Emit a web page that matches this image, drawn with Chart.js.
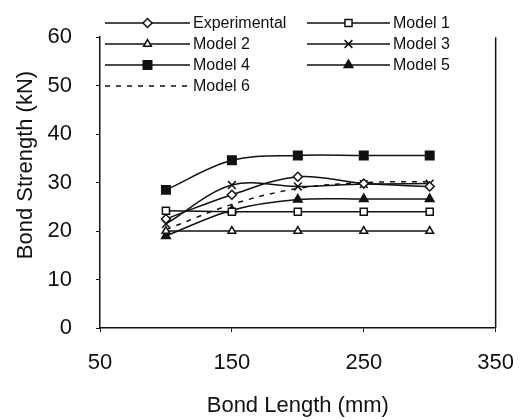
<!DOCTYPE html>
<html>
<head>
<meta charset="utf-8">
<script src="https://cdn.jsdelivr.net/npm/chart.js@4.4.1/dist/chart.umd.min.js"></script>
<style>
  html, body { margin: 0; padding: 0; background: #fff; }
  #wrap { width: 532px; height: 420px; }
</style>
</head>
<body>
<div id="wrap"><canvas id="chart" width="532" height="420"></canvas></div>
<script>
// values
const bondLength = [100, 150, 200, 250, 300];
const experimental = [22.5, 27.5, 31.2, 29.8, 29.2];
const model1 = [24.2, 24, 24, 24, 24];
const model2 = [20, 20, 20, 20, 20];
const model3 = [21.5, 29.5, 29.2, 29.7, 29.8];
const model4 = [28.5, 34.6, 35.6, 35.6, 35.6];
const model5 = [19, 24.3, 26.5, 26.6, 26.6];
const model6 = [20.3, 25.5, 28.8, 30, 30.2];

const xTicks = [50, 150, 250, 350];
const yTicks = [0, 10, 20, 30, 40, 50, 60];

const FONT = "'Liberation Sans', Arial, sans-serif";
const INK = '#111';

const toPoints = (values) => values.map((v, i) => ({ x: bondLength[i], y: v }));

const series = [
    { label: 'Experimental', data: experimental, pointStyle: 'rectRot', radius: 4.5, fill: '#fff' },
    { label: 'Model 1', data: model1, pointStyle: 'rect', radius: 5, fill: '#fff' },
    { label: 'Model 2', data: model2, pointStyle: 'triangle', radius: 4.5, fill: '#fff' },
    { label: 'Model 3', data: model3, pointStyle: 'crossRot', radius: 5.5, fill: INK },
    { label: 'Model 4', data: model4, pointStyle: 'rect', radius: 6, fill: INK },
    { label: 'Model 5', data: model5, pointStyle: 'triangle', radius: 5, fill: INK },
    { label: 'Model 6', data: model6, pointStyle: false, radius: 0, fill: INK, dash: [5, 6] },
];

const datasets = series.map((s) => ({
    label: s.label,
    data: toPoints(s.data),
    showLine: true,
    tension: 0.35,
    borderColor: INK,
    borderWidth: 1.5,
    borderDash: s.dash || [],
    pointStyle: s.pointStyle,
    pointRadius: s.radius,
    pointBackgroundColor: s.fill,
    pointBorderColor: INK,
    pointBorderWidth: 1.5,
}));

// legend inside the plot (two columns), right border and y title
const overlayPlugin = {
    id: 'overlay',
    afterDraw(chart) {
        const { ctx, chartArea } = chart;
        const rows = [23, 44, 65, 86];
        const cols = [{ x0: 105, x1: 190 }, { x0: 307, x1: 390 }];
        ctx.save();

        ctx.strokeStyle = INK;
        ctx.lineWidth = 1.5;
        ctx.beginPath();
        ctx.moveTo(chartArea.right, chartArea.top);
        ctx.lineTo(chartArea.right, chartArea.bottom);
        ctx.stroke();

        series.forEach((s, i) => {
            const col = cols[i % 2];
            const y = rows[Math.floor(i / 2)];
            ctx.strokeStyle = INK;
            ctx.lineWidth = 1.5;
            ctx.setLineDash(s.dash || []);
            ctx.beginPath();
            ctx.moveTo(col.x0, y);
            ctx.lineTo(col.x1, y);
            ctx.stroke();
            ctx.setLineDash([]);
            if (s.pointStyle) {
                ctx.fillStyle = s.fill;
                Chart.helpers.drawPoint(ctx, {
                    pointStyle: s.pointStyle,
                    radius: s.radius,
                    rotation: 0,
                    borderWidth: 1.5,
                }, (col.x0 + col.x1) / 2, y);
            }
            ctx.fillStyle = INK;
            ctx.font = `16px ${FONT}`;
            ctx.textAlign = 'left';
            ctx.textBaseline = 'middle';
            ctx.fillText(s.label, col.x1 + 3, y + 1);
        });

        ctx.translate(26, 165);
        ctx.rotate(-Math.PI / 2);
        ctx.fillStyle = INK;
        ctx.font = `22px ${FONT}`;
        ctx.textAlign = 'center';
        ctx.textBaseline = 'middle';
        ctx.fillText('Bond Strength (kN)', 0, 0);
        ctx.restore();
    },
};

new Chart(document.getElementById('chart'), {
    type: 'scatter',
    data: { datasets },
    options: {
        responsive: false,
        animation: false,
        layout: { padding: { left: 0, right: 34, top: 22, bottom: 0 } },
        plugins: {
            legend: { display: false },
            tooltip: { enabled: false },
        },
        scales: {
            x: {
                type: 'linear',
                min: 50,
                max: 350,
                afterBuildTicks: (scale) => { scale.ticks = xTicks.map((v) => ({ value: v })); },
                afterFit: (scale) => { scale.height = 92; },
                border: { display: true, color: INK, width: 1.5 },
                grid: { drawOnChartArea: false, drawTicks: true, tickLength: 4, color: INK },
                ticks: { color: INK, padding: 18, font: { family: FONT, size: 22 }, maxRotation: 0 },
                title: {
                    display: true,
                    text: 'Bond Length (mm)',
                    color: INK,
                    font: { family: FONT, size: 22 },
                    padding: { top: 0, bottom: 1 },
                },
            },
            y: {
                min: 0,
                max: 60,
                afterBuildTicks: (scale) => { scale.ticks = yTicks.map((v) => ({ value: v })); },
                afterFit: (scale) => { scale.width = 100; },
                border: { display: true, color: INK, width: 1.5 },
                grid: { drawOnChartArea: false, drawTicks: true, tickLength: 4, color: INK },
                ticks: { color: INK, padding: 24, font: { family: FONT, size: 22 } },
            },
        },
    },
    plugins: [overlayPlugin],
});
</script>
</body>
</html>
